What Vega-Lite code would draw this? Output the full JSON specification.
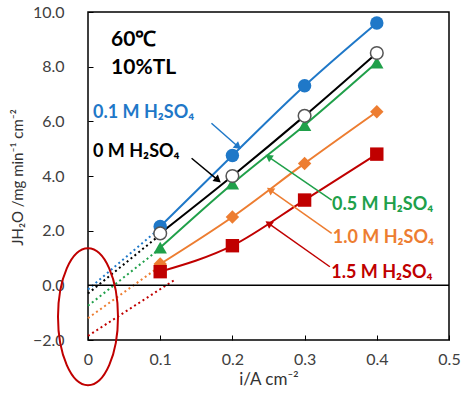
{
  "$schema": "https://vega.github.io/schema/vega-lite/v6.json",
  "width": 361,
  "height": 328,
  "autosize": {"type": "none"},
  "padding": {"left": 88, "top": 12, "right": 12, "bottom": 66},
  "config": {
    "view": {"stroke": "#000000", "strokeWidth": 1.5},
    "font": "Lato"
  },
  "datasets": {
    "main": [
      {"series": "0.1 M", "i": 0.1, "J": 2.15},
      {"series": "0.1 M", "i": 0.2, "J": 4.75},
      {"series": "0.1 M", "i": 0.3, "J": 7.3},
      {"series": "0.1 M", "i": 0.4, "J": 9.6},
      {"series": "0 M", "i": 0.1, "J": 1.9},
      {"series": "0 M", "i": 0.2, "J": 4.0},
      {"series": "0 M", "i": 0.3, "J": 6.2},
      {"series": "0 M", "i": 0.4, "J": 8.5},
      {"series": "0.5 M", "i": 0.1, "J": 1.38},
      {"series": "0.5 M", "i": 0.2, "J": 3.72},
      {"series": "0.5 M", "i": 0.3, "J": 5.86},
      {"series": "0.5 M", "i": 0.4, "J": 8.15},
      {"series": "1.0 M", "i": 0.1, "J": 0.78},
      {"series": "1.0 M", "i": 0.2, "J": 2.5},
      {"series": "1.0 M", "i": 0.3, "J": 4.46},
      {"series": "1.0 M", "i": 0.4, "J": 6.35},
      {"series": "1.5 M", "i": 0.1, "J": 0.5},
      {"series": "1.5 M", "i": 0.2, "J": 1.45},
      {"series": "1.5 M", "i": 0.3, "J": 3.12},
      {"series": "1.5 M", "i": 0.4, "J": 4.8}
    ],
    "fits": [
      {"series": "0.1 M", "i": 0.0, "J": -0.15},
      {"series": "0.1 M", "i": 0.1, "J": 2.1},
      {"series": "0 M", "i": 0.0, "J": -0.3},
      {"series": "0 M", "i": 0.1, "J": 1.85},
      {"series": "0.5 M", "i": 0.0, "J": -0.75},
      {"series": "0.5 M", "i": 0.1, "J": 1.35},
      {"series": "1.0 M", "i": 0.0, "J": -1.2},
      {"series": "1.0 M", "i": 0.1, "J": 0.7},
      {"series": "1.5 M", "i": 0.0, "J": -1.85},
      {"series": "1.5 M", "i": 0.12, "J": 0.2}
    ],
    "labels": [
      {"series": "0.1 M", "text": "0.1 M H₂SO₄", "i": 0.007, "J": 6.3},
      {"series": "0 M", "text": "0 M H₂SO₄", "i": 0.007, "J": 4.88},
      {"series": "0.5 M", "text": "0.5 M H₂SO₄", "i": 0.338, "J": 2.94},
      {"series": "1.0 M", "text": "1.0 M H₂SO₄", "i": 0.339, "J": 1.73},
      {"series": "1.5 M", "text": "1.5 M H₂SO₄", "i": 0.337, "J": 0.45}
    ],
    "notes": [
      {"text": "60℃", "i": 0.032, "J": 8.98},
      {"text": "10%TL", "i": 0.032, "J": 7.95}
    ],
    "arrows": [
      {"series": "0.1 M", "i": 0.171, "J": 5.93, "i2": 0.208, "J2": 5.07},
      {"series": "0 M", "i": 0.1435, "J": 4.65, "i2": 0.18, "J2": 3.85},
      {"series": "0.5 M", "i": 0.3375, "J": 3.12, "i2": 0.25, "J2": 4.7},
      {"series": "1.0 M", "i": 0.3375, "J": 1.9, "i2": 0.252, "J2": 3.49},
      {"series": "1.5 M", "i": 0.335, "J": 0.68, "i2": 0.25, "J2": 2.27}
    ],
    "highlight": [
      {"i": 0.0, "J": -1.15}
    ]
  },
  "layer": [
    {
      "data": {"name": "main"},
      "mark": {"type": "line", "interpolate": "monotone", "strokeWidth": 2},
      "encoding": {
        "x": {
          "field": "i", "type": "quantitative",
          "scale": {"domain": [0, 0.5], "nice": false, "zero": false},
          "axis": {
            "values": [0, 0.1, 0.2, 0.3, 0.4, 0.5],
            "labelExpr": "datum.value == 0 ? '0' : format(datum.value, '.1f')",
            "grid": false, "domain": false,
            "tickSize": -5, "tickColor": "#000000", "tickWidth": 1,
            "labelPadding": 16, "labelFontSize": 16, "labelColor": "#404040",
            "labelFlush": false,
            "title": "i/A cm⁻²", "titleFontSize": 17, "titleFontWeight": "normal",
            "titleColor": "#333333", "titlePadding": 4
          }
        },
        "y": {
          "field": "J", "type": "quantitative",
          "scale": {"domain": [-2, 10], "nice": false, "zero": false},
          "axis": {
            "values": [-2, -1, 0, 1, 2, 3, 4, 5, 6, 7, 8, 9, 10],
            "labelExpr": "datum.value % 2 == 0 ? format(datum.value, '.1f') : ''",
            "grid": false, "domain": false,
            "tickSize": -5, "tickColor": "#000000", "tickWidth": 1,
            "labelPadding": 29, "labelFontSize": 16, "labelColor": "#404040",
            "labelFlush": false,
            "title": "JH₂O /mg min⁻¹ cm⁻²", "titleFontSize": 15, "titleFontWeight": "normal",
            "titleColor": "#333333", "titlePadding": 7, "titleY": 165
          }
        },
        "color": {
          "field": "series", "type": "nominal",
          "scale": {
            "domain": ["0.1 M", "0 M", "0.5 M", "1.0 M", "1.5 M"],
            "range": ["#1F78C8", "#000000", "#20A04A", "#ED7D31", "#C00000"]
          },
          "legend": null
        }
      }
    },
    {
      "data": {"name": "fits"},
      "mark": {"type": "line", "strokeWidth": 2, "strokeDash": [2, 3]},
      "encoding": {
        "x": {"field": "i", "type": "quantitative"},
        "y": {"field": "J", "type": "quantitative"},
        "color": {"field": "series", "type": "nominal", "legend": null}
      }
    },
    {
      "data": {"values": [{}]},
      "mark": {"type": "rule", "color": "#000000", "strokeWidth": 1.5},
      "encoding": {"y": {"datum": 0, "type": "quantitative"}}
    },
    {
      "data": {"name": "arrows"},
      "mark": {"type": "rule", "strokeWidth": 1.5},
      "encoding": {
        "x": {"field": "i", "type": "quantitative"},
        "y": {"field": "J", "type": "quantitative"},
        "x2": {"field": "i2"},
        "y2": {"field": "J2"},
        "color": {"field": "series", "type": "nominal", "legend": null}
      }
    },
    {
      "data": {"name": "arrows"},
      "transform": [{"filter": "datum.series == '0.1 M' || datum.series == '0 M'"}],
      "mark": {"type": "point", "shape": "triangle-up", "filled": true, "opacity": 1, "size": 70, "angle": 130},
      "encoding": {
        "x": {"field": "i2", "type": "quantitative"},
        "y": {"field": "J2", "type": "quantitative"},
        "color": {"field": "series", "type": "nominal", "legend": null}
      }
    },
    {
      "data": {"name": "arrows"},
      "transform": [{"filter": "datum.series != '0.1 M' && datum.series != '0 M'"}],
      "mark": {"type": "point", "shape": "triangle-up", "filled": true, "opacity": 1, "size": 70, "angle": 305},
      "encoding": {
        "x": {"field": "i2", "type": "quantitative"},
        "y": {"field": "J2", "type": "quantitative"},
        "color": {"field": "series", "type": "nominal", "legend": null}
      }
    },
    {
      "data": {"name": "main"},
      "transform": [{"filter": "datum.series != '0 M'"}],
      "mark": {"type": "point", "filled": true, "opacity": 1, "size": 180},
      "encoding": {
        "x": {"field": "i", "type": "quantitative"},
        "y": {"field": "J", "type": "quantitative"},
        "color": {"field": "series", "type": "nominal", "legend": null},
        "shape": {
          "field": "series", "type": "nominal",
          "scale": {
            "domain": ["0.1 M", "0 M", "0.5 M", "1.0 M", "1.5 M"],
            "range": ["circle", "circle", "triangle-up", "diamond", "square"]
          },
          "legend": null
        }
      }
    },
    {
      "data": {"name": "main"},
      "transform": [{"filter": "datum.series == '0 M'"}],
      "mark": {"type": "point", "shape": "circle", "filled": true, "fill": "#FFFFFF", "stroke": "#555555", "strokeWidth": 1.5, "opacity": 1, "size": 160},
      "encoding": {
        "x": {"field": "i", "type": "quantitative"},
        "y": {"field": "J", "type": "quantitative"}
      }
    },
    {
      "data": {"name": "labels"},
      "mark": {"type": "text", "align": "left", "baseline": "middle", "fontWeight": "bold", "fontSize": 18},
      "encoding": {
        "x": {"field": "i", "type": "quantitative"},
        "y": {"field": "J", "type": "quantitative"},
        "text": {"field": "text"},
        "color": {"field": "series", "type": "nominal", "legend": null}
      }
    },
    {
      "data": {"name": "notes"},
      "mark": {"type": "text", "align": "left", "baseline": "middle", "fontWeight": "bold", "fontSize": 21, "color": "#000000"},
      "encoding": {
        "x": {"field": "i", "type": "quantitative"},
        "y": {"field": "J", "type": "quantitative"},
        "text": {"field": "text"}
      }
    },
    {
      "data": {"name": "highlight"},
      "mark": {
        "type": "point",
        "shape": "M0,-1C0.242,-1 0.438,-0.552 0.438,0C0.438,0.552 0.242,1 0,1C-0.242,1 -0.438,0.552 -0.438,0C-0.438,-0.552 -0.242,-1 0,-1Z",
        "filled": false, "stroke": "#C00000", "strokeWidth": 2, "opacity": 1, "size": 18769
      },
      "encoding": {
        "x": {"field": "i", "type": "quantitative"},
        "y": {"field": "J", "type": "quantitative"}
      }
    }
  ]
}
